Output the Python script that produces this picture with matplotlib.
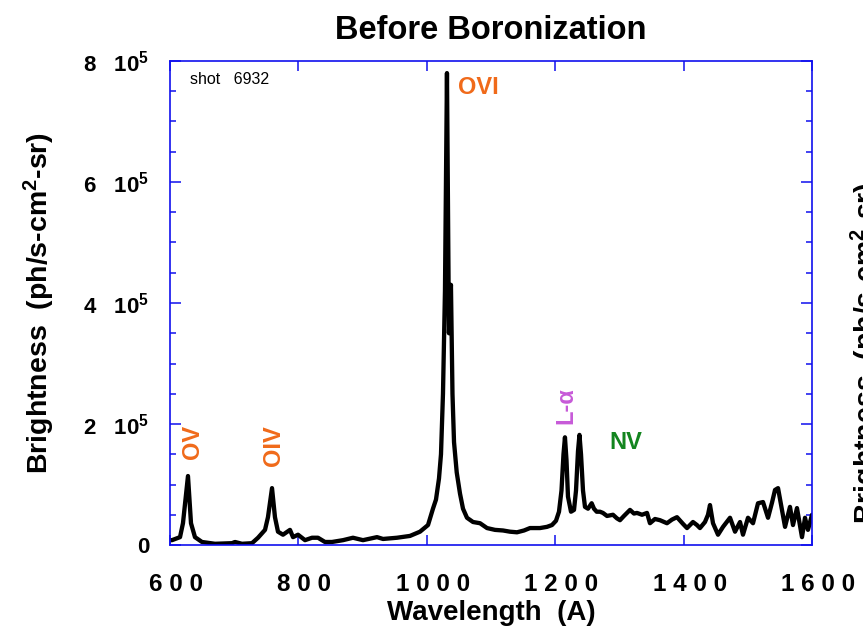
import matplotlib
matplotlib.use("Agg")
import matplotlib.pyplot as plt
import matplotlib.transforms as mtransforms
from matplotlib.ticker import FixedLocator, MultipleLocator
import numpy as np

plt.rcParams['font.family'] = ['Liberation Sans', 'DejaVu Sans']
plt.rcParams['mathtext.fontset'] = 'custom'
plt.rcParams['mathtext.rm'] = 'Liberation Sans:bold'
plt.rcParams['mathtext.it'] = 'Liberation Sans:bold'
plt.rcParams['mathtext.bf'] = 'Liberation Sans:bold'

# VUV survey spectrum, shot 6932 (brightness in units of 1e5 ph/s-cm^2-sr)
wavelength = [600.0, 603.1, 615.6, 620.2, 628.0, 632.7, 638.9, 649.8, 670.1, 696.6,
              701.2, 712.1, 727.7, 737.1, 748.0, 752.6, 758.9, 763.5, 768.2, 776.0,
              786.9, 791.6, 799.4, 810.3, 821.2, 830.5, 841.4, 852.3, 869.5, 885.0,
              900.6, 922.4, 931.8, 953.6, 973.8, 989.4, 1001.9, 1009.6, 1014.3, 1019.0,
              1022.1, 1025.2, 1028.3, 1031.4, 1034.5, 1037.6, 1040.0, 1042.4, 1046.6, 1051.7,
              1056.4, 1062.6, 1072.0, 1082.9, 1093.8, 1106.2, 1118.7, 1129.6, 1140.5, 1151.4,
              1160.7, 1176.3, 1187.2, 1195.0, 1201.2, 1205.9, 1209.8, 1212.9, 1215.2, 1217.6,
              1219.9, 1224.6, 1229.3, 1232.4, 1235.5, 1237.8, 1240.2, 1243.3, 1246.4, 1251.1,
              1256.8, 1260.4, 1264.6, 1269.8, 1274.4, 1280.7, 1290.0, 1296.2, 1300.9, 1307.1,
              1316.5, 1322.7, 1327.4, 1335.2, 1343.0, 1347.6, 1355.4, 1363.2, 1374.1, 1381.9,
              1389.7, 1399.0, 1405.3, 1414.6, 1420.8, 1425.5, 1433.3, 1438.0, 1441.1, 1445.8,
              1453.6, 1461.4, 1472.3, 1480.1, 1487.9, 1492.5, 1500.3, 1508.1, 1515.9, 1523.7,
              1531.5, 1537.7, 1542.4, 1547.1, 1553.3, 1558.0, 1565.7, 1570.4, 1576.6, 1584.4,
              1589.1, 1593.7, 1600.0]
brightness = [0.08, 0.08, 0.13, 0.36, 1.14, 0.36, 0.13, 0.05, 0.02, 0.03,
              0.05, 0.02, 0.03, 0.12, 0.25, 0.46, 0.94, 0.46, 0.22, 0.17,
              0.25, 0.13, 0.17, 0.08, 0.12, 0.12, 0.05, 0.05, 0.08, 0.12,
              0.08, 0.13, 0.10, 0.12, 0.15, 0.22, 0.33, 0.60, 0.75, 1.10,
              1.50, 2.50, 4.20, 7.80, 3.50, 4.30, 2.50, 1.70, 1.20, 0.85,
              0.60, 0.45, 0.38, 0.36, 0.28, 0.25, 0.24, 0.22, 0.21, 0.24,
              0.28, 0.28, 0.30, 0.33, 0.40, 0.55, 0.90, 1.50, 1.78, 1.40,
              0.80, 0.55, 0.58, 0.90, 1.55, 1.82, 1.50, 0.90, 0.63, 0.60,
              0.69, 0.60, 0.55, 0.55, 0.53, 0.48, 0.50, 0.44, 0.41, 0.48,
              0.58, 0.52, 0.53, 0.50, 0.53, 0.36, 0.43, 0.41, 0.36, 0.42,
              0.46, 0.35, 0.28, 0.38, 0.33, 0.28, 0.38, 0.50, 0.66, 0.36,
              0.17, 0.30, 0.45, 0.22, 0.38, 0.17, 0.45, 0.36, 0.69, 0.71,
              0.45, 0.70, 0.91, 0.94, 0.58, 0.30, 0.63, 0.33, 0.61, 0.13,
              0.45, 0.25, 0.50]

x_ticks = [600, 800, 1000, 1200, 1400, 1600]
y_ticks = [0, 2, 4, 6, 8]

# Line identifications: (label, wavelength, brightness/1e5, rotation, colour)
line_ids = [
    ("OV", 634.3, 1.71, 90, "#f06a1a"),
    ("OIV", 761.2, 1.64, 90, "#f06a1a"),
    ("OVI", 1048.6, 7.56, 0, "#f06a1a"),
    ("L-α", 1216.0, 2.31, 90, "#c75ad8"),
    ("NV", 1284.6, 1.70, 0, "#13851f"),
]

fig = plt.figure(figsize=(8.63, 6.30), dpi=100)
ax = fig.add_axes([170 / 863, 85 / 630, 642 / 863, 484 / 630])

scale = 1e5
ax.plot(wavelength, np.array(brightness) * scale, color="black", lw=3.1,
        solid_joinstyle="round", solid_capstyle="round")

ax.set_xlim(600, 1600)
ax.set_ylim(0, 8 * scale)

for side in ("left", "right", "top", "bottom"):
    ax.spines[side].set_color("#1010ee")
    ax.spines[side].set_linewidth(1.2)

ax.xaxis.set_major_locator(FixedLocator(x_ticks))
ax.set_xticklabels([" ".join(str(v)) for v in x_ticks])
ax.yaxis.set_major_locator(FixedLocator([v * scale for v in y_ticks]))
ax.yaxis.set_minor_locator(MultipleLocator(0.5 * scale))
ax.set_yticklabels(["0" if v == 0 else f"{v}   10$^{{5}}$" for v in y_ticks])

ax.tick_params(axis="x", which="major", direction="in", length=7, width=1.1,
               color="#1010ee", top=True, pad=20, labelsize=17.5)
ax.tick_params(axis="y", which="major", direction="in", length=8, width=1.1,
               color="#1010ee", right=True, pad=15, labelsize=16)
ax.tick_params(axis="y", which="minor", direction="in", length=4, width=1.1,
               color="#1010ee", right=True)
shift = mtransforms.ScaledTranslation(6 / 100, 0, fig.dpi_scale_trans)
for lab in ax.get_xticklabels():
    lab.set_fontweight("bold")
    lab.set_transform(lab.get_transform() + shift)
for lab in ax.get_yticklabels():
    lab.set_fontweight("bold")

ax.set_xlabel("Wavelength  (A)", fontsize=20, fontweight="bold", labelpad=3)
ax.set_ylabel("Brightness  (ph/s-cm$^2$-sr)", fontsize=20.5, fontweight="bold",
              labelpad=18.5)
ax.set_title("Before Boronization", fontsize=23.5, fontweight="bold", pad=16)

for text, wl, b, rot, col in line_ids:
    ax.text(wl, b * scale, text, color=col, fontsize=17, fontweight="bold",
            rotation=rot, ha="center" if rot else "left", va="center")

ax.text(631, 7.70 * scale, "shot   6932", fontsize=11.5, va="center", ha="left")

# y-axis title of the neighbouring panel, cut by the figure edge
fig.text(849 / 863, 0.44, "Brightness  (ph/s-cm$^2$-sr)", fontsize=20.5,
         fontweight="bold", rotation=90, ha="left", va="center")

fig.savefig("out.png", dpi=100)
